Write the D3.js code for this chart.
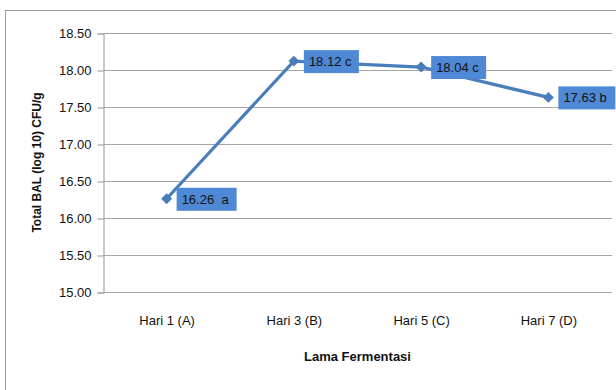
<!DOCTYPE html>
<html lang="id">
  <head>
    <meta charset="UTF-8" />
    <title>Total BAL</title>
    <script src="https://d3js.org/d3.v7.min.js"></script>
    <style>
      body {
        margin: 0;
        background: #fff;
      }
      svg {
        display: block;
      }
      svg text {
        font-family: "Liberation Sans Narrow", "Liberation Sans", sans-serif;
      }
      .tick text {
        font-size: 13px;
        fill: #111;
      }
    </style>
  </head>
  <body>
    <svg id="chart" width="616" height="390"></svg>
    <script>
      const categories = ["Hari 1 (A)", "Hari 3 (B)", "Hari 5 (C)", "Hari 7 (D)"];
      const values = [16.26, 18.12, 18.04, 17.63];
      const labels = ["16.26  a", "18.12 c", "18.04 c", "17.63 b"];
      const yTicks = [15.0, 15.5, 16.0, 16.5, 17.0, 17.5, 18.0, 18.5];

      const width = 616;
      const height = 390;
      const margin = { top: 33, right: 4, bottom: 98, left: 103 };

      const svg = d3.select("#chart");

      // outer chart frame
      svg
        .append("rect")
        .attr("x", 5.5)
        .attr("y", 10.5)
        .attr("width", 640)
        .attr("height", 400)
        .attr("fill", "none")
        .attr("stroke", "#9a9a9a");

      const x = d3
        .scalePoint()
        .domain(categories)
        .range([margin.left, width - margin.right])
        .padding(0.5);

      const y = d3
        .scaleLinear()
        .domain([15, 18.5])
        .range([height - margin.bottom, margin.top]);

      // gridlines
      svg
        .append("g")
        .selectAll("line")
        .data(yTicks)
        .enter()
        .append("line")
        .attr("x1", margin.left)
        .attr("x2", width - margin.right)
        .attr("y1", (d) => Math.round(y(d)) + 0.5)
        .attr("y2", (d) => Math.round(y(d)) + 0.5)
        .attr("stroke", "#a6a6a6")
        .attr("stroke-width", 1.2);

      const yAxis = svg
        .append("g")
        .attr("transform", `translate(${margin.left + 0.5},0.5)`)
        .call(
          d3
            .axisLeft(y)
            .tickValues(yTicks)
            .tickFormat(d3.format(".2f"))
            .tickSize(6)
            .tickPadding(6)
        )
        .attr("font-family", null);
      yAxis.select(".domain").attr("stroke", "#a6a6a6").attr("stroke-width", 1.2);
      yAxis.selectAll(".tick line").attr("stroke", "#a6a6a6").attr("stroke-width", 1.2);

      const xAxis = svg
        .append("g")
        .attr("transform", `translate(0,${height - margin.bottom})`)
        .call(d3.axisBottom(x).tickSize(0).tickPadding(24))
        .attr("font-family", null);
      xAxis.select(".domain").remove();

      // line
      const line = d3
        .line()
        .x((d, i) => x(categories[i]))
        .y((d) => y(d));

      svg
        .append("path")
        .datum(values)
        .attr("d", line)
        .attr("fill", "none")
        .attr("stroke", "#4a7ebb")
        .attr("stroke-width", 3.2);

      svg
        .append("g")
        .selectAll("path")
        .data(values)
        .enter()
        .append("path")
        .attr("d", d3.symbol().type(d3.symbolSquare).size(60))
        .attr("transform", (d, i) => `translate(${x(categories[i])},${y(d)}) rotate(45)`)
        .attr("fill", "#4a7ebb");

      // data labels
      const lbl = svg
        .append("g")
        .selectAll("g")
        .data(values)
        .enter()
        .append("g")
        .attr("transform", (d, i) => `translate(${x(categories[i]) + 10},${y(d)})`);

      lbl
        .append("rect")
        .attr("x", 0)
        .attr("y", -11)
        .attr("width", (d, i) => (i === 0 ? 60 : i === 3 ? 57 : 55))
        .attr("height", 23)
        .attr("fill", "#4f88d4");

      lbl
        .append("text")
        .attr("x", 5)
        .attr("y", 5)
        .attr("font-size", "13px")
        .attr("fill", "#111")
        .style("white-space", "pre")
        .text((d, i) => labels[i]);

      // axis titles
      svg
        .append("text")
        .attr("transform", `translate(41,${(margin.top + height - margin.bottom) / 2}) rotate(-90)`)
        .attr("text-anchor", "middle")
        .style("font-family", "Liberation Sans, Arial, sans-serif")
        .attr("font-weight", "bold")
        .attr("font-size", "12px")
        .attr("fill", "#111")
        .text("Total BAL (log 10) CFU/g");

      svg
        .append("text")
        .attr("x", (margin.left + width - margin.right) / 2)
        .attr("y", 361)
        .attr("text-anchor", "middle")
        .attr("font-weight", "bold")
        .attr("font-size", "13px")
        .attr("fill", "#111")
        .text("Lama Fermentasi");
    </script>
  </body>
</html>
